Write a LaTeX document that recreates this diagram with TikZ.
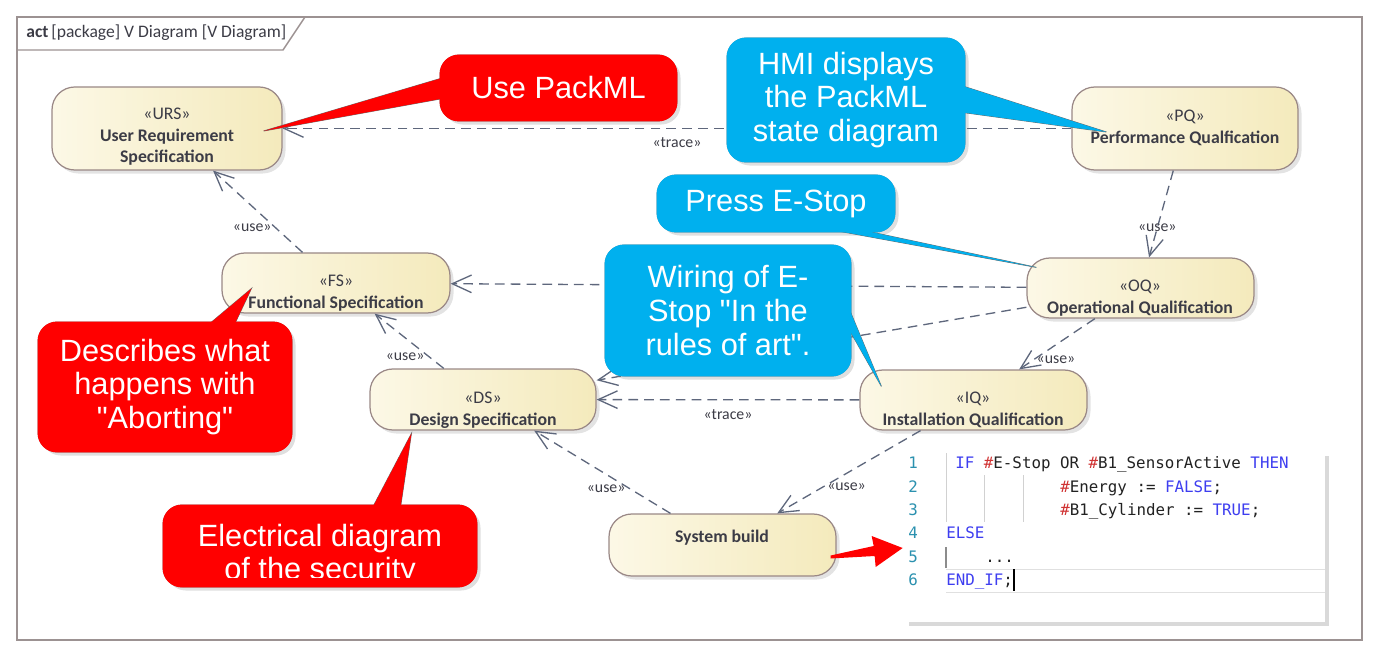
\documentclass[tikz,border=0pt]{standalone}
\usepackage{fontspec}
\setmainfont{Carlito}
\newfontfamily\calloutfont{Liberation Sans}
\newfontfamily\codefont{DejaVu Sans Mono}
\usetikzlibrary{positioning,arrows.meta,calc,fit,shadows}
\definecolor{vdframe}{HTML}{9C9292}
\definecolor{vdborder}{HTML}{9A8886}
\definecolor{vdfillL}{HTML}{FCF8E6}
\definecolor{vdfillR}{HTML}{F4EABC}
\definecolor{vdtext}{HTML}{3C3C46}
\definecolor{vdline}{HTML}{5E677C}
\definecolor{callred}{HTML}{FF0000}
\definecolor{callblue}{HTML}{00B0EE}
\definecolor{calledge}{HTML}{6E6E6E}
\definecolor{kwblue}{HTML}{3E3EF0}
\definecolor{hashred}{HTML}{D03232}
\definecolor{lineno}{HTML}{2B91AF}
\definecolor{codetext}{HTML}{222222}
\tikzset{
  act/.style     ={draw=vdborder, line width=0.7pt, rounded corners=13pt,
                   left color=vdfillL, right color=vdfillR, inner sep=0pt,
                   drop shadow={opacity=0.22, shadow xshift=2pt, shadow yshift=-2pt}},
  actname/.style ={font=\fontsize{10.1}{12.3}\selectfont, text=vdtext, align=center, inner sep=0pt},
  dep/.style     ={draw=vdline, line width=0.75pt, dash pattern=on 5.5pt off 3.5pt,
                   -{Straight Barb[length=11pt, width=10pt]}},
  stereo/.style  ={font=\fontsize{9}{10}\selectfont, text=vdtext, inner sep=2pt},
  callbox/.style ={draw=calledge, line width=0.5pt, rounded corners=11pt, inner sep=0pt,
                   drop shadow={opacity=0.25, shadow xshift=2pt, shadow yshift=-2pt}},
  redcall/.style ={callbox, fill=callred},
  bluecall/.style={callbox, fill=callblue},
  calltext/.style={font=\calloutfont\fontsize{17.5}{19.2}\selectfont, text=white, align=center, inner sep=0pt},
  codeline/.style={font=\codefont\fontsize{9}{11}\selectfont, text=codetext, anchor=west,
                   inner sep=0pt, text height=6.6pt, text depth=0pt},
  numline/.style ={codeline, text=lineno},
  guide/.style   ={draw=black!18, line width=0.5pt},
}
% pointer of a callout: colour, box, base point 1, base point 2, tip
\newcommand{\calltip}[5]{%
  \filldraw[draw=calledge, fill=#1, line width=0.5pt] (#3) -- (#5) -- (#4) -- cycle;
  \fill[#1, rounded corners=11pt] (#2.south west) rectangle (#2.north east);
  \fill[#1] (#3) -- (#5) -- (#4) -- cycle;}
\newcommand{\kw}[1]{\textcolor{kwblue}{#1}}
\newcommand{\hs}{\textcolor{hashred}{\#}}

\begin{document}
\begin{tikzpicture}[x=0.02cm, y=-0.02cm]
  \useasboundingbox (0,0) rectangle (1381,658);
  % frame
  \draw[vdframe, line width=1.3pt] (17,17) rectangle (1362,640);
  \draw[vdframe, line width=0.8pt] (17,50) -- (283,50) -- (305,17);
  \node[font=\fontsize{10}{12}\selectfont, text=vdtext, anchor=west, inner sep=0pt] (title) at (26,33)
    {\textbf{act}\,[package] V Diagram [V Diagram]};

  % activities
  \node[act, fit={(52,87) (282,170)}] (urs) {};
  \node[act, fit={(1072,87) (1298,170)}] (pq) {};
  \node[act, fit={(222,253) (450,313)}] (fs) {};
  \node[act, fit={(1027,258) (1254,318)}] (oq) {};
  \node[act, fit={(370,369) (596,430)}] (ds) {};
  \node[act, fit={(860,370) (1087,430)}] (iq) {};
  \node[act, fit={(609,514) (836,576)}] (sb) {};
  \node[actname] at (167,137) {«URS»\\\textbf{User Requirement}\\\textbf{Specification}};
  \node[actname] at (1185,128) {«PQ»\\\textbf{Performance Qualfication}};
  \node[actname] at (336,293) {«FS»\\\textbf{Functional Specification}};
  \node[actname] at (1140,298) {«OQ»\\\textbf{Operational Qualification}};
  \node[actname] at (483,410) {«DS»\\\textbf{Design Specification}};
  \node[actname] at (973,410) {«IQ»\\\textbf{Installation Qualification}};
  \node[actname] at (722,538) {\textbf{System build}};

  % dependencies
  \draw[dep] (pq) -- (urs) node[stereo, midway, below=3pt] {«trace»};
  \draw[dep] (fs) -- (urs) node[stereo, pos=0.3, left] {«use»};
  \draw[dep] (oq) -- (fs);
  \draw[dep] (oq) -- (ds);
  \draw[dep] (ds) -- (fs) node[stereo, pos=0.22, left] {«use»};
  \draw[dep] (pq) -- (oq) node[stereo, pos=0.66] {«use»};
  \draw[dep] (oq) -- (iq) node[stereo, pos=0.8, right, inner sep=1pt] {«use»};
  \draw[dep] (iq) -- (ds) node[stereo, midway, below=3pt] {«trace»};
  \draw[dep] (sb) -- (ds) node[stereo, pos=0.3, left] {«use»};
  \draw[dep] (iq) -- (sb) node[stereo, pos=0.68, right] {«use»};

  % code
  \node[fill=white, inner sep=0pt, drop shadow={opacity=0.3, shadow xshift=2pt, shadow yshift=-2pt},
        fit={(905,452) (1325,622)}] (code) {};
  \draw[black!12, line width=0.5pt] (946,569) -- (1325,569) (946,592) -- (1325,592);
  \draw[guide] (946,453) -- (946,522);
  \draw[guide] (984,475) -- (984,522);
  \draw[guide] (1023,475) -- (1023,522);
  \draw[black!45, line width=0.6pt] (946,547) -- (946,568);
  \foreach \n/\yy in {1/463,2/487,3/510,4/533,5/557,6/580}
    \node[numline] at (908,\yy) {\n};
  \node[codeline] (l1) at (955,463) {\kw{IF} \hs E-Stop OR \hs B1\_SensorActive \kw{THEN}};
  \node[codeline] (l2) at (1060,487) {\hs Energy := \kw{FALSE};};
  \node[codeline] (l3) at (1060,510) {\hs B1\_Cylinder := \kw{TRUE};};
  \node[codeline] (l4) at (946,533) {\kw{ELSE}};
  \node[codeline] (l5) at (985,557) {...};
  \node[codeline] (l6) at (946,580) {\kw{END\_IF};};
  \draw[black, line width=1.1pt] (l6.east) ++(1,-11) -- ++(0,22);

  % build arrow
  \coordinate (sbout) at ($(sb.east)+(-6,12)$);
  \coordinate (codein) at ($(code.west)+(-2,11)$);
  \fill[callred] ($(sbout)+(0,-1.5)$) -- ($(codein)+(-29,-2)$) -- ($(codein)+(-31,-12)$)
    -- (codein) -- ($(codein)+(-27,19)$) -- ($(codein)+(-28,8)$) -- ($(sbout)+(0,1.5)$) -- cycle;

  % callouts
  \node[redcall, fit={(440,55) (677,121)}] (usepml) {};
  \calltip{callred}{usepml}{$(usepml.west)+(6,-11)$}{$(usepml.west)+(6,10)$}{$(urs.east)+(-19,2.5)$}
  \node[calltext] at (usepml) {Use PackML};

  \node[bluecall, fit={(727,38) (965,162)}] (hmi) {};
  \calltip{callblue}{hmi}{$(hmi.east)+(-6,-15)$}{$(hmi.east)+(-6,12)$}{$(pq.west)+(35,3.5)$}
  \node[calltext] at (hmi) {HMI displays\\the PackML\\state diagram};

  \node[bluecall, fit={(657,175) (895,232)}] (estop) {};
  \calltip{callblue}{estop}{$(estop.south)+(37,-6)$}{$(estop.south)+(69,-6)$}{$(oq.north west)+(10,10)$}
  \node[calltext] at (estop) {Press E-Stop};

  \node[bluecall, fit={(605,245) (851,376)}] (wiring) {};
  \calltip{callblue}{wiring}{$(wiring.east)+(-6,-10.5)$}{$(wiring.east)+(-6,12.5)$}{$(iq.north west)+(22,17)$}
  \node[calltext] at (wiring) {Wiring of E-\\Stop "In the\\rules of art".};

  \node[redcall, fit={(38,322) (292,452)}] (abort) {};
  \calltip{callred}{abort}{$(abort.north)+(40,6)$}{$(abort.north)+(68,6)$}{$(fs.south west)+(30,-25)$}
  \node[calltext] at (abort) {Describes what\\happens with\\"Aborting"};

  \node[redcall, fit={(163,505) (477,587)}] (elec) {};
  \calltip{callred}{elec}{$(elec.north)+(51,6)$}{$(elec.north)+(80,6)$}{$(ds.south west)+(42,3)$}
  \begin{scope}
    \clip (163,505) rectangle (477,577);
    \node[calltext] at ($(elec)+(0,9)$) {Electrical diagram\\of the security};
  \end{scope}
\end{tikzpicture}
\end{document}
